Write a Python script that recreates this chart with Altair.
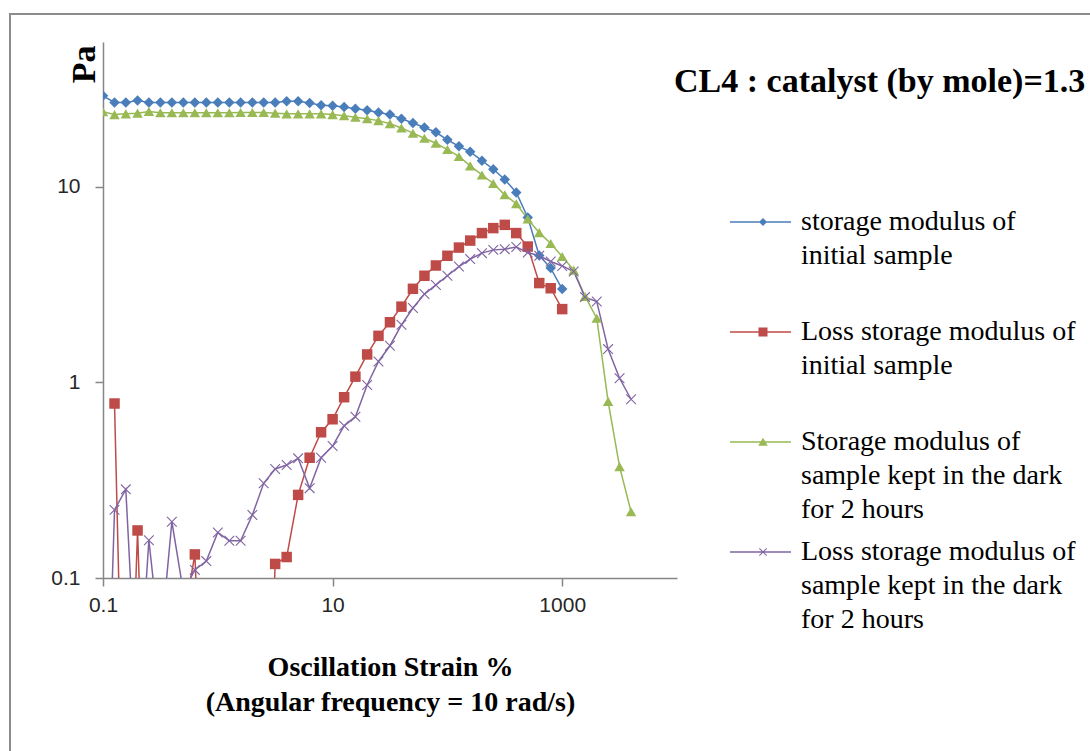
import altair as alt
import pandas as pd

# Oscillation strain (%) – 10 points per decade
strain = [0.1, 0.126, 0.158, 0.2, 0.251, 0.316, 0.398, 0.501, 0.631, 0.794,
          1, 1.26, 1.58, 2, 2.51, 3.16, 3.98, 5.01, 6.31, 7.94,
          10, 12.6, 15.8, 20, 25.1, 31.6, 39.8, 50.1, 63.1, 79.4,
          100, 126, 158, 200, 251, 316, 398, 501, 631, 794,
          1000, 1260, 1580, 2000, 2510, 3160, 3980]

storage_initial = [29.2, 27.0, 27.0, 27.6, 27.0, 27.0, 27.0, 27.0, 27.0, 27.0,
                   27.0, 27.0, 27.0, 27.0, 27.0, 27.0, 27.4, 27.4, 26.8, 26.1,
                   26.0, 25.6, 25.1, 24.6, 24.0, 23.4, 22.3, 21.2, 20.1, 19.0,
                   17.4, 16.1, 15.1, 13.6, 12.3, 10.9, 9.35, 6.97, 4.45, 3.84,
                   3.0]
loss_initial = [None, 0.78, 0.003, 0.175, 0.003, 0.003, 0.003, 0.06, 0.132, 0.005,
                0.003, 0.003, 0.003, 0.003, 0.003, 0.118, 0.128, 0.266, 0.412, 0.556,
                0.648, 0.84, 1.07, 1.39, 1.73, 2.03, 2.44, 3.01, 3.51, 3.96,
                4.44, 4.89, 5.31, 5.80, 6.15, 6.39, 5.80, 4.95, 3.22, 3.03,
                2.37]
storage_dark = [24.2, 23.4, 23.6, 23.8, 24.3, 23.9, 23.9, 23.9, 23.9, 23.9,
                23.9, 23.9, 24.0, 24.0, 24.0, 23.8, 23.6, 23.6, 23.6, 23.6,
                23.4, 23.1, 22.7, 22.3, 21.8, 21.0, 20.0, 18.8, 17.7, 16.7,
                15.5, 14.3, 12.8, 11.5, 10.4, 9.1, 8.2, 6.85, 5.83, 5.13,
                4.40, 3.75, 2.75, 2.13, 0.80, 0.371, 0.218]
loss_dark = [0.003, 0.223, 0.284, 0.02, 0.156, 0.045, 0.194, 0.085, 0.11, 0.122,
             0.171, 0.155, 0.155, 0.210, 0.305, 0.361, 0.378, 0.409, 0.288, 0.412,
             0.473, 0.60, 0.668, 0.97, 1.28, 1.54, 1.97, 2.40, 2.83, 3.15,
             3.51, 3.91, 4.27, 4.58, 4.76, 4.80, 4.92, 4.61, 4.44, 4.15,
             3.94, 3.69, 2.73, 2.59, 1.48, 1.05, 0.82]

series_names = [
    "storage modulus of|initial sample| ",
    "Loss storage modulus of|initial sample| ",
    "Storage modulus of|sample kept in the dark|for 2 hours",
    "Loss storage modulus of|sample kept in the dark|for 2 hours",
]
series_values = [storage_initial, loss_initial, storage_dark, loss_dark]
colors = ["#4A7EBB", "#BE4B48", "#98B954", "#8064A2"]

x_ticks = [0.1, 10, 1000]
y_ticks = [0.1, 1, 10]

rows = []
for name, vals in zip(series_names, series_values):
    for s, v in zip(strain, vals):
        if v is not None:
            rows.append({"strain": s, "modulus": v, "series": name})
df = pd.DataFrame(rows)

X_MARK = "M-1,-0.85L-0.85,-1L1,0.85L0.85,1Z M0.85,-1L1,-0.85L-0.85,1L-1,0.85Z"
marker_shapes = ["diamond", "square", "triangle-up", X_MARK]

LINE = "M-3.3,1.32H2.8V1.48H-3.3Z "
legend_shapes = [
    LINE + "M0,1.0L0.4,1.4L0,1.8L-0.4,1.4Z",
    LINE + "M-0.45,0.95H0.45V1.85H-0.45Z",
    LINE + "M0,0.98L0.48,1.78H-0.48Z",
    LINE + "M-0.4,1.07L-0.33,1.0L0.4,1.73L0.33,1.8Z M0.33,1.0L0.4,1.07L-0.33,1.8L-0.4,1.73Z",
]

color_scale = alt.Scale(domain=series_names, range=colors)

x_enc = alt.X(
    "strain:Q",
    scale=alt.Scale(type="log", domain=[0.1, 10000], nice=False),
    axis=alt.Axis(
        values=x_ticks, format="~g", grid=False, labelFlush=False,
        title=["Oscillation Strain %", "(Angular frequency = 10 rad/s)"],
        titleFont="Liberation Serif", titleFontSize=28, titleFontWeight="bold",
        titleColor="black", titleLineHeight=35, titlePadding=38,
        labelPadding=8,
    ),
)
y_enc = alt.Y(
    "modulus:Q",
    scale=alt.Scale(type="log", domain=[0.1, 55], nice=False),
    axis=alt.Axis(
        values=y_ticks, format="~g", grid=False,
        title="Pa", titleFont="Liberation Serif", titleFontSize=34,
        titleFontWeight="bold", titleColor="black", titleAngle=270,
        titleAlign="right", titleBaseline="middle", titleX=-19, titleY=3,
        labelPadding=15,
    ),
)

base = alt.Chart(df)

lines = base.mark_line(clip=True, strokeWidth=1.5).encode(
    x=x_enc, y=y_enc,
    color=alt.Color("series:N", scale=color_scale, legend=None),
    detail="series:N",
)

points = base.mark_point(clip=True, filled=True, size=110, opacity=1).encode(
    x=x_enc, y=y_enc,
    color=alt.Color("series:N", scale=color_scale, legend=None),
    shape=alt.Shape("series:N", scale=alt.Scale(domain=series_names, range=marker_shapes), legend=None),
)

leg = alt.Legend(
    title=None, orient="none", legendX=646, legendY=152, direction="vertical",
    labelExpr="split(datum.label, '|')", labelFont="Liberation Serif",
    labelFontSize=28, labelColor="black", labelLimit=1000, labelBaseline="top",
    labelOffset=24, symbolSize=400, symbolStrokeWidth=0, symbolOpacity=1,
    rowPadding=0, padding=0, symbolOffset=0,
)

legend_layer = base.mark_point(filled=True, opacity=0).encode(
    x=x_enc, y=y_enc,
    color=alt.Color("series:N", scale=color_scale, legend=leg),
    shape=alt.Shape("series:N", scale=alt.Scale(domain=series_names, range=legend_shapes), legend=leg),
)

frame = alt.Chart(pd.DataFrame({"f": [0]})).mark_rect(
    fillOpacity=0, stroke="#8C8C8C", strokeWidth=2, clip=False
).encode(x=alt.value(-93), x2=alt.value(1100), y=alt.value(-28), y2=alt.value(800))

chart = alt.layer(frame, lines, points, legend_layer).resolve_scale(
    color="independent", shape="independent"
).properties(
    width=574, height=536,
    autosize=alt.AutoSizeParams(type="none"),
    padding={"left": 103, "top": 42, "right": 413, "bottom": 173},
    title=alt.TitleParams(
        "CL4 : catalyst (by mole)=1.3", anchor="start", dx=665, dy=113,
        font="Liberation Serif", fontSize=34, fontWeight="bold", color="black",
        offset=0, baseline="alphabetic",
    ),
).configure(
    style={"guide-label": {"lineHeight": 34}}
).configure_view(
    strokeWidth=0
).configure_axis(
    domainColor="#868686", domainWidth=1.5, tickColor="#868686", tickWidth=1.5,
    tickSize=8, labelFont="Liberation Sans", labelFontSize=21, labelColor="#262626",
)

chart.save("out.html", embed_options={"renderer": "svg", "actions": False})
